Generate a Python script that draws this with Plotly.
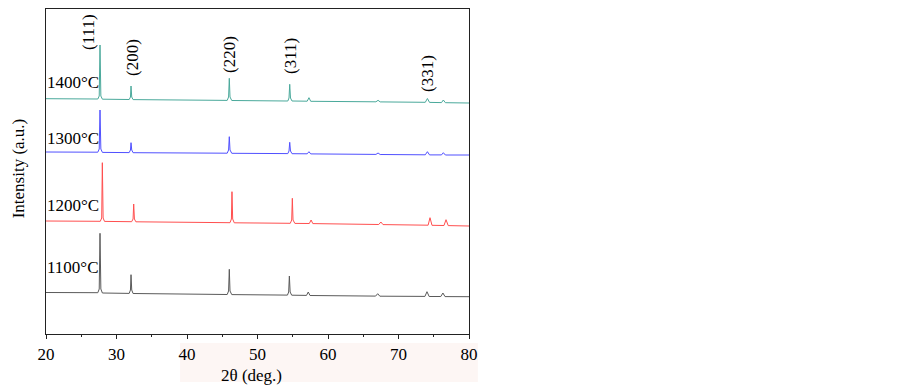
import plotly.graph_objects as go

# ---- data (2θ in degrees, intensity in arbitrary units, offsets already included) ----
x_1400 = [20, 27.35, 27.55, 27.66, 27.78, 28.0, 31.8, 31.98, 32.06, 32.16, 32.35,
          45.7, 45.9, 46.0, 46.1, 46.35, 54.3, 54.47, 54.57, 54.68, 54.9,
          57.05, 57.3, 57.55, 66.8, 67.1, 67.4, 73.8, 74.1, 74.4, 76.1, 76.36, 76.65, 80]
y_1400 = [235.3, 235.0, 238, 289, 238, 234.8, 234.5, 237, 248, 237, 234.4,
          233.6, 237, 255.7, 237, 233.5, 233, 236, 249.7, 236, 233,
          232.8, 236.3, 232.7, 232.2, 233.7, 232.1, 231.7, 235.5, 231.6, 231.4, 234, 231.3, 231]

x_1300 = [20, 27.35, 27.55, 27.66, 27.78, 28.0, 31.8, 31.98, 32.06, 32.16, 32.35,
          45.7, 45.9, 46.0, 46.1, 46.35, 54.3, 54.47, 54.57, 54.68, 54.9,
          57.05, 57.3, 57.55, 66.8, 67.1, 67.4, 73.8, 74.1, 74.4, 76.1, 76.36, 76.65, 80]
y_1300 = [182, 181.8, 185, 224, 185, 181.6, 181.4, 184, 191.3, 184, 181.3,
          180.8, 184, 197.3, 184, 180.7, 180.4, 183, 191.7, 183, 180.3,
          180.2, 182.3, 180.1, 179.6, 181, 179.5, 179.2, 182.3, 179.1, 179.1, 181.3, 179, 179]

x_1200 = [20, 27.7, 27.9, 27.99, 28.1, 28.3, 32.15, 32.35, 32.44, 32.54, 32.75,
          46.1, 46.3, 46.38, 46.48, 46.7, 54.65, 54.85, 54.94, 55.04, 55.3,
          57.35, 57.6, 57.85, 67.2, 67.5, 67.8, 74.2, 74.47, 74.75, 76.45, 76.74, 77.05, 80]
y_1200 = [113, 112.7, 116, 171.3, 116, 112.6, 112.3, 115, 130, 115, 112.2,
          111.3, 115, 142.3, 115, 111.2, 110.7, 114, 135.7, 114, 110.6,
          110.5, 114, 110.4, 109.5, 112, 109.4, 108.8, 116.3, 108.7, 108.5, 114.3, 108.4, 108]

x_1100 = [20, 27.35, 27.55, 27.66, 27.78, 28.0, 31.8, 31.98, 32.06, 32.16, 32.35,
          45.7, 45.9, 46.0, 46.1, 46.35, 54.25, 54.42, 54.52, 54.63, 54.85,
          56.95, 57.2, 57.45, 66.75, 67.05, 67.35, 73.75, 74.04, 74.35, 76.0, 76.3, 76.6, 80]
y_1100 = [41.5, 41.3, 45, 100.7, 45, 41, 40.6, 44, 59.3, 44, 40.5,
          39.5, 43, 64.7, 43, 39.4, 38.9, 42, 58, 42, 38.8,
          38.6, 42, 38.5, 37.9, 40.3, 37.8, 37.6, 42.3, 37.5, 37.5, 41, 37.4, 37.3]

series_names = ["1100°C", "1200°C", "1300°C", "1400°C"]
peak_labels = ["(111)", "(200)", "(220)", "(311)", "(331)"]
x_ticks = [20, 30, 40, 50, 60, 70, 80]

FONT = "Liberation Serif, Times New Roman, serif"

fig = go.Figure()
series = [
    (x_1100, y_1100, "#5a5a5a"),
    (x_1200, y_1200, "#ff4f4f"),
    (x_1300, y_1300, "#5050ff"),
    (x_1400, y_1400, "#4aa99b"),
]
for (xs, ys, col), name in zip(series, series_names):
    fig.add_trace(go.Scatter(x=xs, y=ys, mode="lines", name=name,
                             line=dict(color=col, width=1), showlegend=False))

annotations = []
# series labels
label_y = [67, 129, 196, 252]
for name, yy in zip(series_names, label_y):
    annotations.append(dict(x=20, y=yy, xref="x", yref="y", text=name, showarrow=False,
                            xanchor="left", yanchor="middle", xshift=-1,
                            font=dict(family=FONT, size=17, color="black")))
# peak labels
peak_pos = [(25.96, 302), (32.2, 276), (45.96, 279), (54.6, 278), (74.04, 261)]
for lab, (px, py) in zip(peak_labels, peak_pos):
    annotations.append(dict(x=px, y=py, xref="x", yref="y", text=lab, showarrow=False,
                            textangle=-90, xanchor="center", yanchor="middle",
                            font=dict(family=FONT, size=17, color="black")))
# axis titles
annotations.append(dict(x=-0.066, y=0.51, xref="paper", yref="paper", text="Intensity (a.u.)",
                        showarrow=False, textangle=-90, xanchor="center", yanchor="middle",
                        font=dict(family=FONT, size=17, color="black")))
annotations.append(dict(x=0.486, y=-0.127, xref="paper", yref="paper", text="2θ (deg.)",
                        showarrow=False, xanchor="center", yanchor="middle",
                        font=dict(family=FONT, size=17, color="black")))

# page body has an 8px margin, so the figure is sized/positioned to compensate
fig.update_layout(
    width=895, height=382,
    margin=dict(l=38, r=434, t=1, b=56),
    paper_bgcolor="white", plot_bgcolor="white",
    annotations=annotations,
    shapes=[dict(type="rect", xref="paper", yref="paper", x0=0.317, x1=1.021,
                 y0=-0.148, y1=-0.028, fillcolor="#fdf6f4", line=dict(width=0), layer="below")],
)
fig.update_xaxes(range=[20, 80], tickvals=x_ticks, ticktext=[str(t) for t in x_ticks],
                 ticks="outside", ticklen=4, tickwidth=1.2, tickcolor="#222",
                 minor=dict(dtick=5, tick0=20, ticks="outside", ticklen=2, tickwidth=1, tickcolor="#222"),
                 showline=True, linecolor="#222", linewidth=1.3, mirror=True,
                 showgrid=False, zeroline=False,
                 tickfont=dict(family=FONT, size=17, color="black"))
fig.update_yaxes(range=[0, 325], showticklabels=False, ticks="",
                 showline=True, linecolor="#222", linewidth=1.3, mirror=True,
                 showgrid=False, zeroline=False)

fig.write_html("out.html")
